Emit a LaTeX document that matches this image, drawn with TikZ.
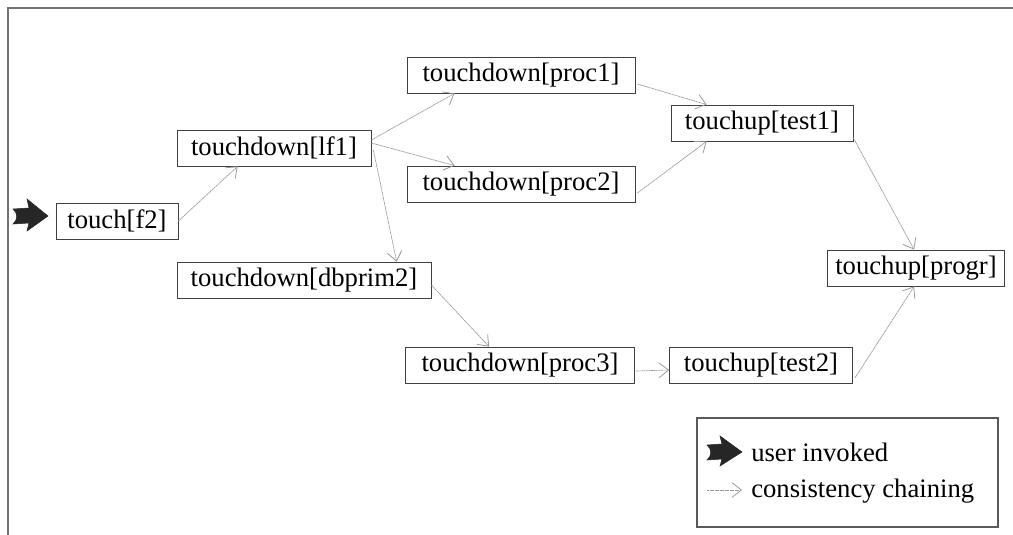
\documentclass[tikz,border=0pt]{standalone}
\usepackage{fontspec}
\setmainfont{Liberation Serif}
\usetikzlibrary{arrows.meta,calc}
\begin{document}
\begin{tikzpicture}[x=0.75pt,y=-0.75pt,
  box/.style={draw=black!75,line width=0.6pt,minimum height=27pt,inner sep=0pt,font=\fontsize{20}{24}\selectfont},
  chain/.style={draw=black!40,line width=0.5pt,dash pattern=on 1.5pt off 0.4pt,-{Straight Barb[length=7pt,width=11pt,line width=0.6pt,sep=0pt]}},
  lbl/.style={font=\fontsize{20}{24}\selectfont,anchor=west,inner sep=0pt},
  bigarrow/.style={fill=black!85,draw=black!85}]
\useasboundingbox (0,0) rectangle (1013,535);
\draw[black!55,line width=1pt] (8,535) -- (8,8) -- (1013,8);

\node[box,minimum width=91.5pt]  (f2)    at (117,221) {touch[f2]};
\node[box,minimum width=145.5pt] (lf1)   at (274,148) {touchdown[lf1]};
\node[box,minimum width=171pt]   (proc1) at (521,75)  {touchdown[proc1]};
\node[box,minimum width=171pt]   (proc2) at (521,184) {touchdown[proc2]};
\node[box,minimum width=136.5pt] (test1) at (762,123) {touchup[test1]};
\node[box,minimum width=190.5pt] (dbp)   at (304,280) {touchdown[dbprim2]};
\node[box,minimum width=171.75pt](proc3) at (520,365) {touchdown[proc3]};
\node[box,minimum width=137.25pt](test2) at (761,365) {touchup[test2]};
\node[box,minimum width=132.75pt](progr) at (916,268) {touchup[progr]};

\draw[chain] (f2.east) -- ($(lf1.south west)+(61,0)$);
\draw[chain] ($(lf1.east)+(0,-8)$) -- ($(proc1.south west)+(48,0)$);
\draw[chain] ($(lf1.east)+(0,-5)$) -- ($(proc2.north west)+(48,0)$);
\draw[chain] ($(lf1.east)+(2,2)$) -- ($(dbp.north west)+(220,0)$);
\draw[chain] ($(proc1.east)+(2,9)$) -- ($(test1.north west)+(36,0)$);
\draw[chain] ($(proc2.east)+(2,9)$) -- ($(test1.south west)+(36,0)$);
\draw[chain] ($(dbp.east)+(0,5)$) -- ($(proc3.north west)+(84,0)$);
\draw[chain] ($(proc3.east)+(1,6)$) -- ($(test2.west)+(0,5)$);
\draw[chain] ($(test1.east)+(0,15)$) -- ($(progr.north west)+(87,0)$);
\draw[chain] ($(test2.east)+(2,13)$) -- ($(progr.south west)+(87,0)$);

% user invoked arrow
\fill[bigarrow] (13,209) -- (29,208) -- (27,199) -- (48,216) -- (27,231) -- (29,223) -- (13,224) .. controls (18,220) and (18,213) .. (13,209) -- cycle;

% legend
\node[draw=black!65,line width=0.8pt,minimum width=225.75pt,minimum height=81.75pt,inner sep=0pt] (leg) at (847.5,472.5) {};
\fill[bigarrow] (707,445) -- (722,444) -- (720,436) -- (742,452) -- (720,466) -- (722,459) -- (707,460) .. controls (712,456) and (712,449) .. (707,445) -- cycle;
\node[lbl] (l1) at (751,452) {user invoked};
\coordinate (cs) at (707,490);
\node[lbl] (l2) at (751,491) {consistency chaining};
\draw[chain] (cs) -- ($(l2.west)+(-9,-1)$);
\end{tikzpicture}
\end{document}
